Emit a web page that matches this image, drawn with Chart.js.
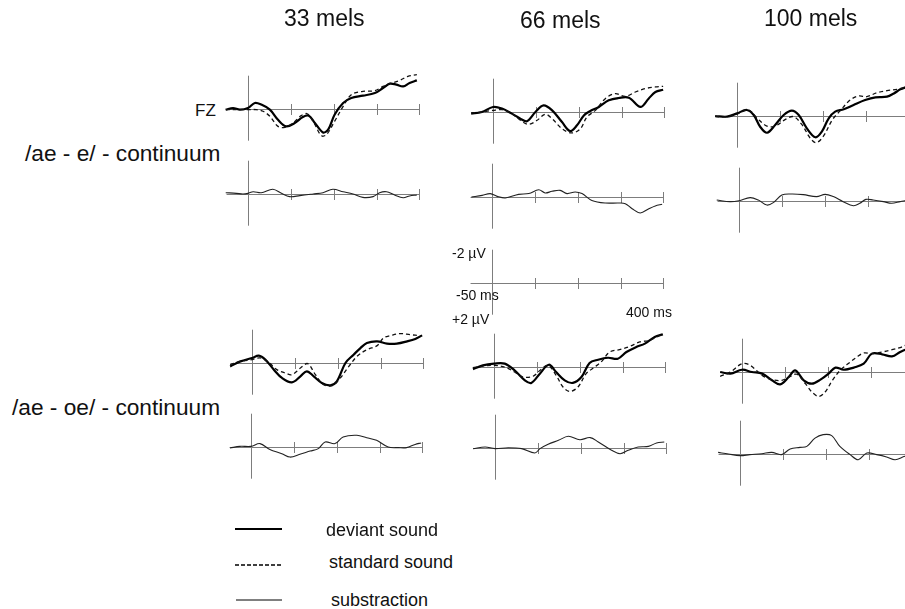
<!DOCTYPE html>
<html>
<head>
<meta charset="utf-8">
<script src="https://cdn.jsdelivr.net/npm/chart.js@4/dist/chart.umd.min.js"></script>
<style>
  html, body { margin:0; padding:0; background:#fff; overflow:hidden; }
  #stage { position:relative; width:905px; height:609px; overflow:hidden; font-family:"Liberation Sans", Arial, Helvetica, sans-serif; color:#111; }
  canvas { position:absolute; }
  .t { position:absolute; white-space:nowrap; line-height:1; }
  svg { position:absolute; left:0; top:0; }
</style>
</head>
<body>
<div id="stage"></div>
<script>
// ---------- DATA (time in ms, amplitude in µV; negative is plotted up) ----------
const tickTimes = [100, 200, 300, 400];
const columnTitles = ["33 mels", "66 mels", "100 mels"];
const rowTitles = ["/ae - e/ - continuum", "/ae - oe/ - continuum"];
const legendLabels = ["deviant sound", "standard sound", "substraction"];

// /ae - e/, 33 mels
const e33DevT = [-52,-35,-19,0,16,31,51,70,89,109,128,142,156,175,187,202,222,241,268,296,315,331,346,362,377,394];
const e33DevV = [0.04,-0.06,0.04,-0.06,-0.37,-0.27,0.04,0.66,1.07,0.86,0.49,0.41,0.86,1.44,1.27,0.35,-0.37,-0.68,-0.82,-0.98,-1.29,-1.56,-1.50,-1.39,-1.60,-1.76];
const e33StdT = [-52,-19,0,19,35,51,70,86,105,124,138,152,171,183,202,222,241,268,296,315,331,354,373,394];
const e33StdV = [0.04,0.04,0.04,0.04,0.14,0.45,1.07,1.13,0.86,0.41,0.29,0.76,1.64,1.58,0.76,-0.16,-0.88,-1.09,-1.13,-1.39,-1.56,-1.76,-2.01,-2.11];
const e33DifT = [-52,-27,-12,0,12,31,58,78,97,121,152,175,198,222,245,268,292,307,323,342,362,377,394];
const e33DifV = [-0.08,-0.04,0,-0.04,-0.14,-0.08,-0.29,-0.04,0.16,0.10,0,-0.08,-0.29,-0.14,0,0.21,0.16,-0.08,-0.14,0.06,0.23,0.12,0.06];

// /ae - e/, 66 mels
const e66DevT = [-51,-26,0,21,44,64,79,99,118,138,161,180,196,212,227,247,270,293,317,344,363,379,397];
const e66DevV = [0.10,0,-0.31,-0.21,0.10,0.41,0.57,0,-0.41,-0.10,0.62,1.17,0.82,0.21,-0.06,-0.31,-0.72,-0.86,-0.88,-0.31,-0.82,-1.23,-1.37];
const e66StdT = [-51,-26,0,21,44,64,83,103,122,138,161,184,204,219,239,262,285,309,332,355,379,397];
const e66StdV = [0.06,0,-0.10,-0.14,0.10,0.51,0.76,0.51,0.14,0.41,1.03,1.29,1.03,0.31,-0.10,-0.82,-1.13,-0.96,-1.23,-1.44,-1.54,-1.58];
const e66DifT = [-48,-23,-4,12,31,62,86,109,124,140,159,175,194,210,233,264,296,311,327,346,366,381,397];
const e66DifV = [0,-0.10,-0.21,-0.04,0.06,-0.16,-0.21,-0.45,-0.25,-0.35,-0.41,-0.21,-0.31,-0.21,0.21,0.37,0.37,0.41,0.72,0.98,0.72,0.55,0.45];

// /ae - e/, 100 mels
const e100DevT = [-51,-23,0,23,39,54,70,89,109,128,144,163,183,198,214,229,249,272,299,323,350,366,381,393,402];
const e100DevV = [0,0.04,-0.16,-0.37,-0.06,0.66,1.03,0.55,-0.06,-0.33,-0.06,0.76,1.31,0.96,0.14,-0.27,-0.41,-0.68,-0.98,-1.15,-1.19,-1.39,-1.64,-1.76,-1.82];
const e100StdT = [-51,-23,0,27,47,70,89,113,132,152,171,185,202,222,241,264,284,303,327,350,373,393,402];
const e100StdV = [0.04,0.04,-0.12,-0.37,0.14,0.62,0.62,0.21,0.04,0.55,1.37,1.64,1.23,0.25,-0.33,-0.98,-1.23,-1.19,-1.44,-1.56,-1.64,-1.76,-1.80];
const e100DifT = [-52,-21,0,26,45,65,80,100,123,150,181,201,220,243,267,282,296,313,337,356,376,387,402];
const e100DifV = [-0.06,0.04,-0.02,-0.21,-0.06,0.25,0.10,-0.37,-0.43,-0.39,-0.27,-0.41,-0.27,0.04,0.29,0.14,-0.10,-0.06,0.04,0.14,0.04,-0.02,0];

// /ae - oe/, 33 mels
const o33DevT = [-51,-27,0,16,31,51,70,93,113,128,144,163,183,198,218,237,253,268,292,315,338,362,381,397];
const o33DevV = [0.21,-0.10,-0.31,-0.45,-0.21,0.41,0.92,1.19,0.82,0.51,0.82,1.23,1.37,1.13,0,-0.51,-0.92,-1.23,-1.33,-1.19,-1.19,-1.33,-1.48,-1.70];
const o33StdT = [-51,-27,0,19,39,58,78,93,113,130,148,167,187,206,226,245,268,292,307,323,346,369,393];
const o33StdV = [0.10,-0.10,-0.21,-0.31,-0.04,0.41,0.62,0.72,0.31,0.04,0.72,1.33,1.39,0.92,0.21,-0.41,-0.82,-1.07,-1.54,-1.68,-1.81,-1.74,-1.68];
const o33DifT = [-49,-26,0,21,44,72,91,114,138,157,173,196,215,247,270,293,320,344,363,383,397];
const o33DifV = [0.06,-0.04,-0.04,-0.21,0.16,0.41,0.62,0.45,0.25,0.10,-0.31,-0.21,-0.62,-0.72,-0.57,-0.41,0,0.04,0.04,-0.16,-0.25];

// /ae - oe/, 66 mels
const o66DevT = [-49,-26,0,25,48,72,87,107,128,145,165,184,204,223,243,266,289,309,332,352,375,394];
const o66DevV = [0.14,-0.10,-0.21,-0.21,0.21,0.82,0.98,0.41,-0.14,0.31,0.82,0.98,0.62,-0.25,-0.45,-0.57,-0.51,-0.92,-1.23,-1.44,-1.85,-2.01];
const o66StdT = [-49,-26,0,25,48,68,91,107,126,145,161,177,196,215,235,250,270,293,317,340,363,383,394];
const o66StdV = [0.04,-0.06,-0.10,0,0.31,0.62,0.57,0.21,-0.10,0.51,1.23,1.50,1.23,0.41,0,-0.31,-0.92,-1.07,-1.27,-1.54,-1.64,-1.89,-2.01];
const o66DifT = [-51,-23,0,31,62,93,105,124,148,171,198,222,241,272,292,311,334,358,377,395];
const o66DifV = [0.04,-0.06,0.04,-0.02,0.04,0.31,0.04,-0.23,-0.47,-0.72,-0.51,-0.64,-0.37,0.14,0.35,0.14,-0.06,-0.10,-0.31,-0.37];

// /ae - oe/, 100 mels
const o100DevT = [-51,-27,0,23,47,70,89,109,124,144,163,183,202,218,237,261,284,303,327,350,369,381,402];
const o100DevV = [0,0.10,-0.14,0,0.10,0.51,0.76,0.31,-0.10,0.51,0.72,0.47,0.10,-0.27,-0.14,-0.27,-0.51,-1.13,-1.09,-0.96,-1.23,-1.37,-1.50];
const o100StdT = [-51,-27,0,19,47,70,93,113,128,148,163,179,194,210,229,253,268,284,303,327,350,369,381,402];
const o100StdV = [0.27,0,-0.51,-0.41,0.21,0.47,0.51,0.27,0.14,0.72,1.23,1.50,1.23,0.55,-0.10,-0.62,-0.92,-1.17,-1.13,-1.23,-1.37,-1.50,-1.64,-1.75];
const o100DifT = [-51,-27,0,23,51,74,97,117,140,156,175,194,214,233,257,276,296,319,342,362,385,402];
const o100DifV = [-0.10,0,0.10,0.04,-0.02,-0.10,0.04,-0.31,-0.41,-0.47,-0.98,-1.19,-1.13,-0.47,0.04,0.35,-0.06,0.04,0.18,0.35,0.14,0.10];

// ---------- RENDERING ----------
const stage = document.getElementById('stage');
const PX_MS = 3/7, PX_UV = 16.25, CW = 198, CH = 146, OFFX = 24, OFFY = 81;
const AXIS_COLOR = '#7d7d7d';

const pts = (t, v) => t.map((x, i) => ({ x, y: v[i] }));
const devDs = (t, v) => ({ data: pts(t, v), borderColor: '#000', borderWidth: 2.2, tension: 0.35, pointRadius: 0 });
const stdDs = (t, v) => ({ data: pts(t, v), borderColor: '#111', borderWidth: 1.3, borderDash: [4, 3], tension: 0.35, pointRadius: 0 });
const difDs = (t, v) => ({ data: pts(t, v), borderColor: '#222', borderWidth: 1.1, tension: 0.35, pointRadius: 0 });

const axisPlugin = {
  id: 'erpAxes',
  beforeDatasetsDraw(chart) {
    const { ctx, scales: { x, y } } = chart;
    const y0 = Math.round(y.getPixelForValue(0)) + 0.5;
    const xz = Math.round(x.getPixelForValue(0)) + 0.5;
    ctx.save();
    ctx.strokeStyle = AXIS_COLOR;
    ctx.lineWidth = 1;
    ctx.beginPath();
    ctx.moveTo(x.getPixelForValue(-50), y0);
    ctx.lineTo(x.getPixelForValue(400), y0);
    ctx.moveTo(xz, y.getPixelForValue(-2.05));
    ctx.lineTo(xz, y.getPixelForValue(1.95));
    tickTimes.forEach(tt => {
      const px = Math.round(x.getPixelForValue(tt)) + 0.5;
      ctx.moveTo(px, y0 - 5.5);
      ctx.lineTo(px, y0 + 5.5);
    });
    ctx.stroke();
    ctx.restore();
  }
};

function panel(x0, base, datasets) {
  const cv = document.createElement('canvas');
  const left = Math.round(x0) - OFFX, top = Math.round(base) - OFFY;
  cv.width = CW; cv.height = CH;
  cv.style.left = left + 'px'; cv.style.top = top + 'px';
  cv.style.width = CW + 'px'; cv.style.height = CH + 'px';
  stage.appendChild(cv);
  const xmin = -OFFX / PX_MS, ymin = -OFFY / PX_UV;
  new Chart(cv.getContext('2d'), {
    type: 'line',
    data: { datasets },
    options: {
      responsive: false, animation: false, events: [], devicePixelRatio: 1,
      layout: { padding: 0 },
      plugins: { legend: { display: false }, tooltip: { enabled: false } },
      scales: {
        x: { type: 'linear', display: false, min: xmin, max: xmin + CW / PX_MS },
        y: { type: 'linear', display: false, reverse: true, min: ymin, max: ymin + CH / PX_UV }
      }
    },
    plugins: [axisPlugin]
  });
}

// /ae - e/ row
panel(248.3, 109.3, [stdDs(e33StdT, e33StdV), devDs(e33DevT, e33DevV)]);
panel(248.3, 194,   [difDs(e33DifT, e33DifV)]);
panel(492.7, 111.7, [stdDs(e66StdT, e66StdV), devDs(e66DevT, e66DevV)]);
panel(491.7, 196.7, [difDs(e66DifT, e66DifV)]);
panel(736.7, 116,   [stdDs(e100StdT, e100StdV), devDs(e100DevT, e100DevV)]);
panel(739,   201,   [difDs(e100DifT, e100DifV)]);
// scale panel
panel(491.5, 282.5, []);
// /ae - oe/ row
panel(251.7, 363.3, [stdDs(o33StdT, o33StdV), devDs(o33DevT, o33DevV)]);
panel(251,   446.7, [difDs(o33DifT, o33DifV)]);
panel(494.3, 366.7, [stdDs(o66StdT, o66StdV), devDs(o66DevT, o66DevV)]);
panel(495,   447.7, [difDs(o66DifT, o66DifV)]);
panel(741.7, 371.7, [stdDs(o100StdT, o100StdV), devDs(o100DevT, o100DevV)]);
panel(740,   454.3, [difDs(o100DifT, o100DifV)]);

// ---------- TEXT ----------
function text(str, left, baseline, size) {
  const d = document.createElement('div');
  d.className = 't';
  d.textContent = str;
  d.style.fontSize = size + 'px';
  d.style.left = left + 'px';
  d.style.top = (baseline - 0.8465 * size) + 'px';
  stage.appendChild(d);
}
text(columnTitles[0], 284, 26, 23);
text(columnTitles[1], 520, 28, 23);
text(columnTitles[2], 764, 26, 23);
text('FZ', 195, 116, 17);
text(rowTitles[0], 25, 161, 22.7);
text(rowTitles[1], 12, 415, 22.7);
text('-2 µV', 452, 258, 14);
text('-50 ms', 456, 300, 14);
text('+2 µV', 452, 324, 14);
text('400 ms', 626, 317, 14);
text(legendLabels[0], 326, 536, 18);
text(legendLabels[1], 329, 568, 18);
text(legendLabels[2], 331, 606, 18);

// legend line samples
const svgNS = 'http://www.w3.org/2000/svg';
const svg = document.createElementNS(svgNS, 'svg');
svg.setAttribute('width', 905); svg.setAttribute('height', 609);
[[235, 282, 529, 2.2, null], [235, 282, 565, 1.3, '4 2'], [236, 282, 600, 1, null]].forEach(([x1, x2, y, w, dash]) => {
  const l = document.createElementNS(svgNS, 'line');
  l.setAttribute('x1', x1); l.setAttribute('x2', x2);
  l.setAttribute('y1', y); l.setAttribute('y2', y);
  l.setAttribute('stroke', '#000'); l.setAttribute('stroke-width', w);
  if (dash) l.setAttribute('stroke-dasharray', dash);
  svg.appendChild(l);
});
stage.appendChild(svg);
</script>
</body>
</html>
